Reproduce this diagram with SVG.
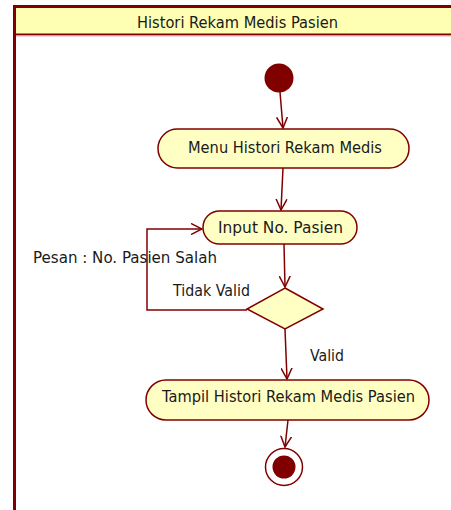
<svg xmlns="http://www.w3.org/2000/svg" width="451" height="510" viewBox="0 0 451 510">
<style>
.t{font-family:"DejaVu Sans","Liberation Sans",sans-serif;font-size:15px;fill:#1a1a1a}
.act{fill:#FFFFC4;stroke:#800000;stroke-width:1.5}
.c{fill:none;stroke:#800000;stroke-width:1.5}
</style>
<defs>
<marker id="ah" viewBox="0 0 12 12" refX="11" refY="6" markerWidth="12" markerHeight="12" markerUnits="userSpaceOnUse" orient="auto">
<path d="M0,0.5 L11,6 L0,11.5" fill="none" stroke="#800000" stroke-width="1.5"/>
</marker>
</defs>
<g id="lane">
<rect x="14.5" y="6.5" width="450" height="520" fill="#fff" stroke="#800000" stroke-width="3"/>
<rect x="16" y="8" width="440" height="26" fill="#FFFFB4"/>
<line x1="16" y1="34.5" x2="451" y2="34.5" stroke="#800000" stroke-width="2"/>
<line x1="16" y1="36" x2="451" y2="36" stroke="#e8b0b0" stroke-width="1"/>
<text class="t" x="237.5" y="28" text-anchor="middle" textLength="201" lengthAdjust="spacingAndGlyphs">Histori Rekam Medis Pasien</text>
</g>
<g id="connectors">
<line class="c" x1="280" y1="92" x2="283" y2="128" marker-end="url(#ah)"/>
<line class="c" x1="283" y1="168" x2="281" y2="210" marker-end="url(#ah)"/>
<line class="c" x1="284" y1="244" x2="285" y2="287" marker-end="url(#ah)"/>
<polyline class="c" points="247,310 147,310 147,229 202,229" marker-end="url(#ah)"/>
<line class="c" x1="285" y1="329" x2="287" y2="379" marker-end="url(#ah)"/>
<line class="c" x1="288" y1="420" x2="285" y2="447" marker-end="url(#ah)"/>
<text class="t" x="33" y="263" textLength="184" lengthAdjust="spacingAndGlyphs">Pesan : No. Pasien Salah</text>
<text class="t" x="173" y="296" textLength="77" lengthAdjust="spacingAndGlyphs">Tidak Valid</text>
<text class="t" x="310" y="361" textLength="34" lengthAdjust="spacingAndGlyphs">Valid</text>
</g>
<g id="start"><circle cx="279" cy="78" r="14.5" fill="#800000"/></g>
<g id="menu">
<rect class="act" x="158" y="129" width="251" height="39" rx="19.5"/>
<text class="t" x="285" y="153" text-anchor="middle" textLength="194" lengthAdjust="spacingAndGlyphs">Menu Histori Rekam Medis</text>
</g>
<g id="input">
<rect class="act" x="203" y="211" width="154" height="33" rx="16.5"/>
<text class="t" x="280.5" y="233" text-anchor="middle" textLength="125" lengthAdjust="spacingAndGlyphs">Input No. Pasien</text>
</g>
<g id="decision">
<polygon class="act" points="285,288 323,309 285,329 247,309"/>
</g>
<g id="tampil">
<rect class="act" x="146" y="380" width="283" height="40" rx="20"/>
<text class="t" x="288.5" y="402" text-anchor="middle" textLength="253" lengthAdjust="spacingAndGlyphs">Tampil Histori Rekam Medis Pasien</text>
</g>
<g id="end">
<circle cx="284" cy="467" r="18.5" fill="#fff" stroke="#800000" stroke-width="1.5"/>
<circle cx="284" cy="467" r="11.5" fill="#800000"/>
</g>
</svg>
